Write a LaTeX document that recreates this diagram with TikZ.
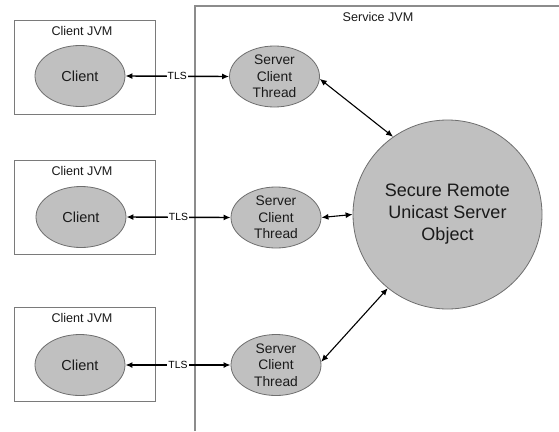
\documentclass[tikz,border=0pt]{standalone}
\usepackage{fontspec}
\setmainfont{Liberation Sans}
\usetikzlibrary{arrows.meta,shapes.geometric}
\definecolor{shapefill}{HTML}{C0C0C0}
\definecolor{shapeedge}{HTML}{6E6E6E}
\definecolor{boxedge}{HTML}{7A7A7A}
\definecolor{jvmedge}{HTML}{8C8C8C}
\definecolor{txt}{HTML}{1A1A1A}
\tikzset{
  jvmbox/.style={draw=boxedge, line width=1pt, minimum width=141pt, minimum height=94pt, inner sep=0pt},
  boxtitle/.style={text=txt, font=\fontsize{12.6}{15}\selectfont, inner sep=0pt},
  clientshape/.style={ellipse, draw=shapeedge, fill=shapefill, line width=0.8pt,
    minimum width=90pt, minimum height=61pt, inner sep=0pt, text=txt,
    font=\fontsize{14.5}{17}\selectfont},
  threadshape/.style={ellipse, draw=shapeedge, fill=shapefill, line width=0.8pt,
    minimum width=90pt, minimum height=61pt, inner sep=0pt, text=txt, align=center,
    font=\fontsize{13.8}{16.5}\selectfont},
  objshape/.style={circle, draw=shapeedge, fill=shapefill, line width=0.8pt,
    minimum size=189pt, inner sep=0pt, text=txt, align=center,
    font=\fontsize{18}{22}\selectfont},
  link/.style={draw=black, line width=1.4pt, {Latex[length=7pt,width=6pt]}-{Latex[length=7pt,width=6pt]}},
  objlink/.style={draw=black, line width=1.1pt, {Latex[length=7pt,width=6pt]}-{Latex[length=7pt,width=6pt]}},
  tlslabel/.style={fill=white, inner sep=1.2pt, text=black, font=\fontsize{10.4}{12}\selectfont},
}
\begin{document}
\begin{tikzpicture}[x=1pt, y=-1pt]
  \useasboundingbox (0,0) rectangle (559,431);
  \fill[white] (0,0) rectangle (559,431);

  % service JVM frame (open to the right and bottom)
  \coordinate (svcbl) at (195,431);
  \coordinate (svctl) at (195,6);
  \coordinate (svctr) at (559,6);
  \draw[jvmedge, line width=1.8pt] (svcbl) -- (svctl) -- (svctr);
  \node[boxtitle] (svctitle) at (378,17) {Service JVM};

  % client JVM boxes
  \node[jvmbox] (box1) at (84.5,67) {};
  \node[jvmbox] (box2) at (84.5,207) {};
  \node[jvmbox] (box3) at (84.5,354.5) {};
  \node[boxtitle] (title1) at (82,30.5) {Client JVM};
  \node[boxtitle] (title2) at (82,171) {Client JVM};
  \node[boxtitle] (title3) at (82,318) {Client JVM};

  % clients
  \node[clientshape] (c1) at (80,76) {Client};
  \node[clientshape] (c2) at (81,217) {Client};
  \node[clientshape] (c3) at (80,365) {Client};

  % server client threads
  \node[threadshape] (t1) at (274.5,76.5) {Server\\Client\\Thread};
  \node[threadshape] (t2) at (276,217.5) {Server\\Client\\Thread};
  \node[threadshape] (t3) at (276,365) {Server\\Client\\Thread};

  % remote object
  \node[objshape] (obj) at (447.5,214.5) {Secure Remote\\Unicast Server\\Object};

  % TLS connections
  \draw[link] (c1.east) -- (t1.west) node[tlslabel, pos=0.5] (tls1) {TLS};
  \draw[link] (c2.east) -- (t2.west) node[tlslabel, pos=0.5] (tls2) {TLS};
  \draw[link] (c3.east) -- (t3.west) node[tlslabel, pos=0.5] (tls3) {TLS};

  % thread to object links
  \draw[objlink] (t1.-3) -- (obj.125);
  \draw[objlink] (t2.east) -- (obj.west);
  \draw[objlink] (t3.4) -- (obj.231);
\end{tikzpicture}
\end{document}
